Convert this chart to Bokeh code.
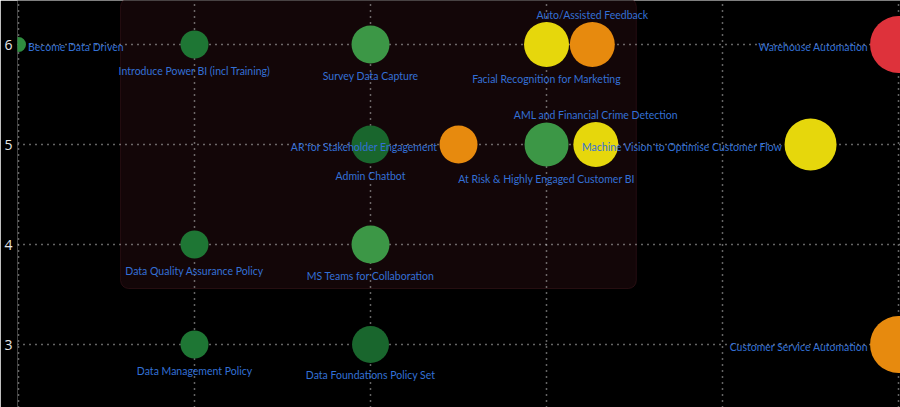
from bokeh.plotting import figure
from bokeh.models import ColumnDataSource, BoxAnnotation, Range1d, FixedTicker
from bokeh.core.properties import value
from bokeh.embed import file_html
from bokeh.resources import INLINE

# ---- data ----
names = ["Become Data Driven", "Introduce Power BI (incl Training)", "Survey Data Capture",
         "Facial Recognition for Marketing", "Auto/Assisted Feedback", "Warehouse Automation",
         "Admin Chatbot", "AR for Stakeholder Engagement", "At Risk & Highly Engaged Customer BI",
         "AML and Financial Crime Detection", "Machine Vision to Optimise Customer Flow",
         "Data Quality Assurance Policy", "MS Teams for Collaboration",
         "Data Management Policy", "Data Foundations Policy Set", "Customer Service Automation"]
effort = [0, 1, 2, 3, 3.26, 5, 2, 2.5, 3, 3.28, 4.5, 1, 2, 1, 2, 5]
value_score = [6, 6, 6, 6, 6, 6, 5, 5, 5, 5, 5, 4, 4, 3, 3, 3]
bubble_size = [15, 28, 38, 45, 45, 57, 38, 38, 44, 45, 52, 28, 38, 28, 37, 57]
status = ["green", "darkgreen", "lightgreen", "yellow", "orange", "red",
          "deepgreen", "orange", "lightgreen", "yellow", "yellow",
          "darkgreen", "lightgreen", "darkgreen", "deepgreen", "orange"]
label_pos = ["right", "below", "below", "below", "above", "left",
             "below", "left", "below", "above", "left",
             "below", "below", "below", "below", "left"]
y_ticks = [3, 4, 5, 6]
x_ticks = [0, 1, 2, 3, 4, 5]

palette = {"green": "#2f8d3f", "darkgreen": "#1e7634", "lightgreen": "#3c9746",
           "deepgreen": "#19662d", "yellow": "#e6d70c", "orange": "#e78a0e", "red": "#de323b"}

colors = [palette[s] for s in status]
x_off, y_off, align = [], [], []
for d, pos in zip(bubble_size, label_pos):
    r = d / 2
    if pos == "below":
        x_off.append(0); y_off.append(r + 12); align.append("center")
    elif pos == "above":
        x_off.append(0); y_off.append(-(r + 7)); align.append("center")
    elif pos == "left":
        x_off.append(-(r + 2)); y_off.append(2); align.append("right")
    else:
        x_off.append(r + 2); y_off.append(2); align.append("left")

src = ColumnDataSource(dict(x=effort, y=value_score, d=bubble_size, c=colors, name=names,
                            xo=x_off, yo=y_off, al=align))

p = figure(width=900, height=407, output_backend="svg", toolbar_location=None,
           x_range=Range1d(-0.0057, 5.011), y_range=Range1d(2.37, 6.44),
           x_axis_location=None,
           background_fill_color="black", border_fill_color="black", outline_line_color=None,
           min_border_left=17, min_border_right=0, min_border_top=0, min_border_bottom=0)

p.yaxis.ticker = FixedTicker(ticks=y_ticks)
p.yaxis.axis_line_color = None
p.yaxis.major_tick_line_color = None
p.yaxis.minor_tick_line_color = None
p.yaxis.major_tick_out = 0
p.yaxis.major_tick_in = 0
p.yaxis.major_label_standoff = 5
p.yaxis.major_label_text_color = "#e6e6e6"
p.yaxis.major_label_text_font = "Open Sans"
p.yaxis.major_label_text_font_size = "14px"

for g in (p.xgrid, p.ygrid):
    g.grid_line_color = "#c8c8c8"
    g.grid_line_dash = "1 5"
    g.grid_line_width = 1.5
p.xgrid.ticker = FixedTicker(ticks=x_ticks)

box = BoxAnnotation(left=0.58, right=3.51, bottom=3.56, top=6.46,
                    fill_color="#130608", fill_alpha=1.0,
                    line_color="#6a2832", line_width=1, border_radius=8, level="image")
p.add_layout(box)

p.scatter("x", "y", size="d", source=src, fill_color="c", line_color=None)
p.text("x", "y", text="name", source=src, x_offset="xo", y_offset="yo",
       text_align="al", text_baseline="middle",
       text_font=value("Lato"), text_font_size="10.5px", text_color="#3370d6")

open("out.html", "w").write(file_html(p, INLINE))
